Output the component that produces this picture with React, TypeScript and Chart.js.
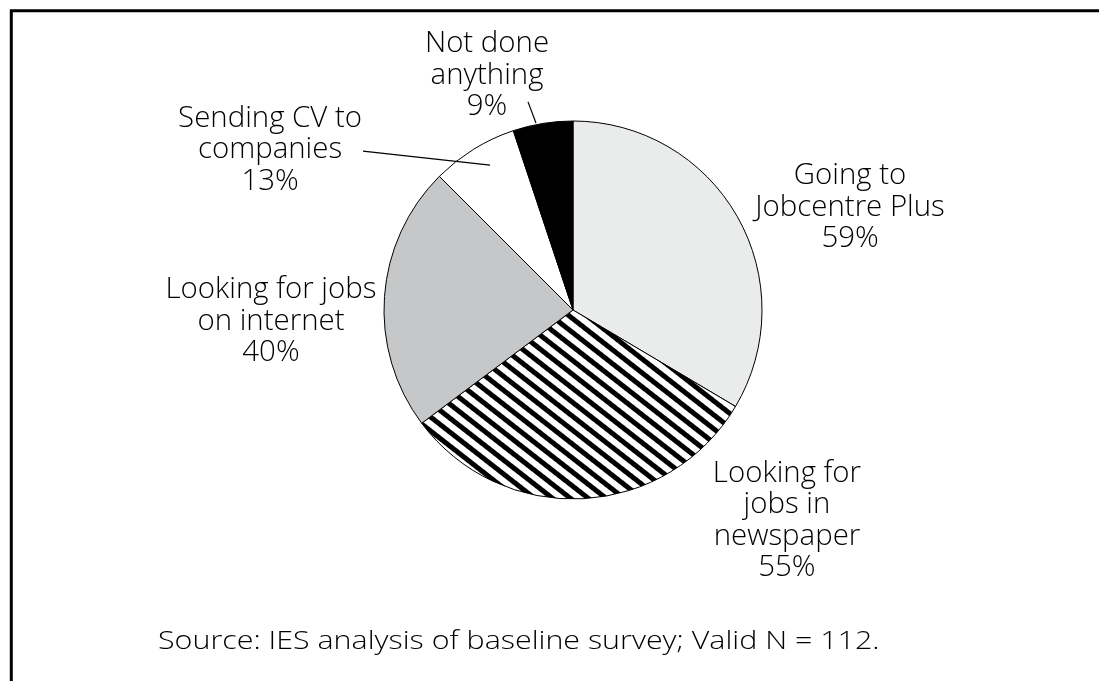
import React, { useEffect, useRef } from "react";
import { Chart, registerables } from "chart.js";

Chart.register(...registerables);

// ---- data ----
const categories = [
  "Going to Jobcentre Plus",
  "Looking for jobs in newspaper",
  "Looking for jobs on internet",
  "Sending CV to companies",
  "Not done anything",
];
const values = [59, 55, 40, 13, 9];
const labelLines = [
  ["Going to", "Jobcentre Plus"],
  ["Looking for", "jobs in", "newspaper"],
  ["Looking for jobs", "on internet"],
  ["Sending CV to", "companies"],
  ["Not done", "anything"],
];
const sourceNote = "Source: IES analysis of baseline survey; Valid N = 112.";

// ---- styles ----
const W = 1099;
const H = 681;
const FONT = '"Open Sans", "Noto Sans", sans-serif';
const LABEL_FONT = `300 30px ${FONT}`;
const SOURCE_FONT = `300 26px ${FONT}`;
const LINE_GAP = 31.5;
const LABEL_X_SCALE = 0.98;
const SOURCE_X_SCALE = 1.17;
// label block centres, in pie-radius units from the pie centre
const labelAnchors: [number, number][] = [
  [1.466, -0.545],
  [1.132, 1.114],
  [-1.598, 0.058],
  [-1.603, -0.847],
  [-0.455, -1.243],
];
// leader lines (radius units from centre): [from, to] or null
const leaders: ([number, number][] | null)[] = [
  null,
  null,
  null,
  [
    [-0.439, -0.767],
    [-1.111, -0.841],
  ],
  [
    [-0.196, -0.989],
    [-0.238, -1.101],
  ],
];

function makeStripes(): CanvasPattern | string {
  const period = 11;
  const black = 5;
  const c = document.createElement("canvas");
  c.width = period;
  c.height = period;
  const g = c.getContext("2d");
  if (!g) return "#000";
  g.fillStyle = "#ffffff";
  g.fillRect(0, 0, period, period);
  g.fillStyle = "#000000";
  g.fillRect(0, 0, black, period);
  const p = g.createPattern(c, "repeat");
  if (!p) return "#000";
  p.setTransform(new DOMMatrix().rotate(-52));
  return p;
}

function drawScaledText(
  ctx: CanvasRenderingContext2D,
  text: string,
  x: number,
  y: number,
  align: "center" | "left",
  sx: number
) {
  ctx.save();
  ctx.translate(x, y);
  ctx.scale(sx, 1);
  ctx.textAlign = align;
  ctx.fillText(text, 0, 0);
  ctx.restore();
}

const annotations = {
  id: "annotations",
  beforeDraw(chart: any) {
    const ctx: CanvasRenderingContext2D = chart.ctx;
    ctx.save();
    ctx.fillStyle = "#ffffff";
    ctx.fillRect(0, 0, W, H);
    ctx.strokeStyle = "#000000";
    ctx.lineWidth = 3;
    ctx.beginPath();
    ctx.moveTo(9.8, 10.8);
    ctx.lineTo(W, 10.8);
    ctx.moveTo(11.3, 9.3);
    ctx.lineTo(11.3, H);
    ctx.stroke();
    ctx.restore();
  },
  afterDatasetsDraw(chart: any) {
    const ctx: CanvasRenderingContext2D = chart.ctx;
    const meta = chart.getDatasetMeta(0);
    const a0 = meta.data[0] as any;
    const cx = a0.x;
    const cy = a0.y;
    const r = a0.outerRadius;
    ctx.save();
    ctx.fillStyle = "#000000";
    ctx.strokeStyle = "#000000";
    ctx.lineWidth = 1.2;
    ctx.font = LABEL_FONT;
    ctx.textBaseline = "middle";
    categories.forEach((_, i) => {
      const lines = [...labelLines[i], `${values[i]}%`];
      const [ax, ay] = labelAnchors[i];
      const bx = cx + ax * r;
      const by = cy + ay * r;
      const top = by - ((lines.length - 1) * LINE_GAP) / 2;
      lines.forEach((ln, k) => drawScaledText(ctx, ln, bx, top + k * LINE_GAP, "center", LABEL_X_SCALE));
      const ld = leaders[i];
      if (ld) {
        ctx.beginPath();
        ctx.moveTo(cx + ld[0][0] * r, cy + ld[0][1] * r);
        ctx.lineTo(cx + ld[1][0] * r, cy + ld[1][1] * r);
        ctx.stroke();
      }
    });
    ctx.font = SOURCE_FONT;
    drawScaledText(ctx, sourceNote, 158, 642, "left", SOURCE_X_SCALE);
    ctx.restore();
  },
};

export default function App() {
  const ref = useRef<HTMLCanvasElement | null>(null);
  useEffect(() => {
    if (!ref.current) return;
    const chart = new Chart(ref.current, {
      type: "pie",
      data: {
        labels: categories,
        datasets: [
          {
            data: values,
            backgroundColor: ["#EAEBEB", makeStripes() as any, "#C6C7C8", "#FFFFFF", "#000000"],
            borderColor: "#000000",
            borderWidth: 1,
          },
        ],
      },
      options: {
        responsive: false,
        animation: false,
        events: [],
        radius: 189,
        layout: { padding: { left: 300, right: 253, top: 100, bottom: 161 } },
        plugins: {
          legend: { display: false },
          tooltip: { enabled: false },
          title: { display: false },
        },
      } as any,
      plugins: [annotations],
    });
    return () => chart.destroy();
  }, []);
  return (
    <div style={{ position: "fixed", left: 0, top: 0, width: W, height: H, background: "#fff" }}>
      <canvas ref={ref} width={W} height={H} style={{ display: "block" }} />
    </div>
  );
}
